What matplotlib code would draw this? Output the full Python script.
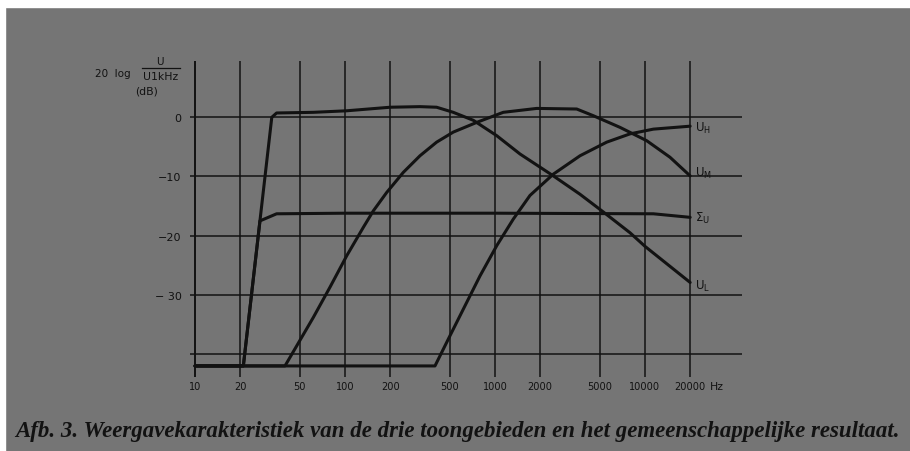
import matplotlib.pyplot as plt
from matplotlib.patches import Rectangle

# frequency (Hz) and level (dB)
BASE = -42.0

ul_freq = [10, 21, 32.5, 35, 61.5, 102.6, 200, 316, 408, 527, 716, 1026,
           1468, 2449, 3687, 5280, 7943, 10000, 20000]
ul_db = [BASE, BASE, 0.0, 0.73, 0.84, 1.1, 1.7, 1.8, 1.7, 0.84, -0.5, -3.1,
         -6.2, -9.9, -13.0, -16.0, -19.5, -21.8, -27.9]

um_freq = [10, 39.8, 61.5, 79.4, 102.6, 132.4, 154.5, 189.6, 244.8, 316,
           408, 527, 757, 1135, 1897, 3505, 4522, 6813, 10260, 14680, 20000]
um_db = [BASE, BASE, -33.8, -28.7, -23.4, -18.6, -15.8, -12.7, -9.3, -6.5,
         -4.2, -2.5, -0.85, 0.84, 1.5, 1.4, 0.27, -1.7, -3.95, -6.75, -9.9]

uh_freq = [10, 398, 501, 615, 794, 1026, 1324, 1711, 2449, 3687, 5553,
           7943, 11370, 20000]
uh_db = [BASE, BASE, -36.9, -32.4, -26.8, -21.7, -17.2, -13.2, -9.6, -6.5,
         -4.2, -2.8, -2.0, -1.5]

sum_freq = [10, 21, 27.1, 35, 100, 1000, 11370, 20000]
sum_db = [BASE, BASE, -17.5, -16.3, -16.2, -16.2, -16.3, -16.9]

x_ticks = [10, 20, 50, 100, 200, 500, 1000, 2000, 5000, 10000, 20000]
x_labels = ["10", "20", "50", "100", "200", "500", "1000", "2000", "5000",
            "10000", "20000"]
y_ticks = [0, -10, -20, -30]
y_labels = ["0", "\u221210", "\u221220", "\u2212 30"]
h_lines = [0, -10, -20, -30, -40]

curve_labels = [r"U$_\mathrm{H}$", r"U$_\mathrm{M}$", r"$\Sigma_\mathrm{U}$",
                r"U$_\mathrm{L}$"]
label_y = [128, 173, 218, 286]

W, H = 910, 452
BG = "#757575"
INK = "#121212"


def fx(x):
    return x / W


def fy(y):
    return 1 - y / H


def main() -> None:
    fig = plt.figure(figsize=(W / 100, H / 100), dpi=100, facecolor=BG)
    # white scan edges
    fig.patches.append(Rectangle((0, fy(8)), 1, 1, transform=fig.transFigure,
                                 color="white", zorder=0))
    fig.patches.append(Rectangle((0, 0), fx(5), 1, transform=fig.transFigure,
                                 color="white", zorder=0))

    ax = fig.add_axes([fx(190), fy(378), fx(742) - fx(190), fy(62) - fy(378)])
    ax.set_facecolor(BG)
    ax.set_xscale("log")
    ax.set_xlim(9.26, 44330)
    ax.set_ylim(-43.87, 9.51)
    for s in ax.spines.values():
        s.set_visible(False)

    for v in h_lines:
        ax.axhline(v, color=INK, lw=1.1, zorder=1)
    for t in x_ticks:
        ax.axvline(t, color=INK, lw=1.4 if t == 10 else 1.1, zorder=1)

    for f, d in [(ul_freq, ul_db), (um_freq, um_db), (uh_freq, uh_db),
                 (sum_freq, sum_db)]:
        ax.plot(f, d, color=INK, lw=2.2, solid_capstyle="round",
                solid_joinstyle="round", zorder=3)

    ax.set_xticks(x_ticks, x_labels)
    ax.set_xticks([], minor=True)
    ax.set_yticks(y_ticks, y_labels)
    ax.tick_params(axis="x", length=0, pad=3, labelsize=7.8, labelcolor=INK)
    ax.tick_params(axis="y", length=0, pad=6, labelsize=8, labelcolor=INK)
    for lab in ax.get_xticklabels():
        lab.set_fontstretch("condensed")

    fig.text(fx(710), fy(387), "Hz", fontsize=7.8, color=INK, va="center")

    # curve labels on the right
    for txt, y in zip(curve_labels, label_y):
        fig.text(fx(695), fy(y), txt, fontsize=8.5, color=INK, va="center")

    # y axis title
    fig.text(fx(95), fy(74), "20  log", fontsize=7.5, color=INK, va="center")
    fig.text(fx(160), fy(62), "U", fontsize=7.5, color=INK, va="center",
             ha="center")
    fig.add_artist(plt.Line2D([fx(142), fx(180)], [fy(69), fy(69)],
                              color=INK, lw=0.9))
    fig.text(fx(161), fy(77), "U1kHz", fontsize=7.8, color=INK, va="center",
             ha="center")
    fig.text(fx(147), fy(92), "(dB)", fontsize=7.8, color=INK, va="center",
             ha="center")

    fig.text(fx(15), fy(432), "Afb. 3. Weergavekarakteristiek van de drie "
             "toongebieden en het gemeenschappelijke resultaat.",
             fontsize=16.5, family="Liberation Serif", weight="bold",
             style="italic", color=INK, va="center")

    fig.savefig("out.png", dpi=100, facecolor=BG)


if __name__ == "__main__":
    main()
